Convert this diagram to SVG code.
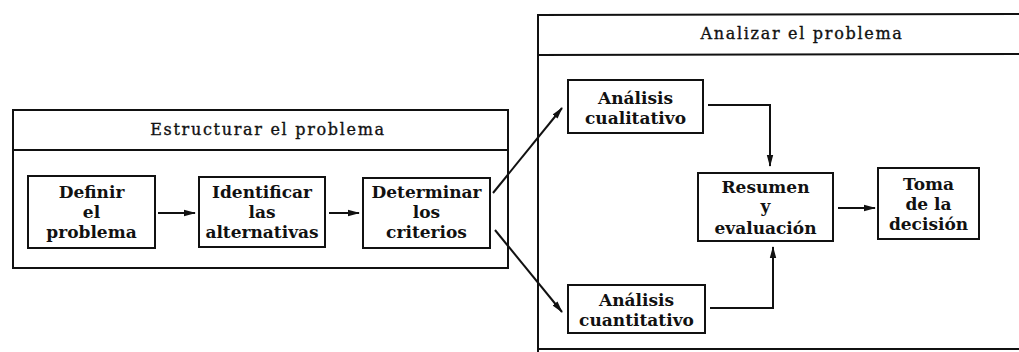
<svg xmlns="http://www.w3.org/2000/svg" width="1019" height="352" viewBox="0 0 1019 352">
  <style>
    .frame { fill: none; stroke: #111; stroke-width: 2; }
    .box { fill: #fff; stroke: #111; stroke-width: 2; }
    .head { font-family: "DejaVu Serif", "Liberation Serif", serif; font-size: 16px; letter-spacing: 1.7px; fill: #111; stroke: #111; stroke-width: 0.35; text-anchor: middle; }
    .lbl { font-family: "DejaVu Serif", "Liberation Serif", serif; font-size: 17px; font-weight: bold; fill: #111; text-anchor: middle; }
    .conn { fill: none; stroke: #111; stroke-width: 2; }
  </style>
  <defs>
    <marker id="arr" markerWidth="12" markerHeight="8" refX="11" refY="4" orient="auto" markerUnits="userSpaceOnUse">
      <path d="M0,0.8 L12,4 L0,7.2 Z" fill="#111"/>
    </marker>
  </defs>
  <rect width="1019" height="352" fill="#fff"/>

  <!-- stage: structure the problem -->
  <g id="estructurar">
    <rect class="frame" x="13" y="110" width="495" height="158"/>
    <line class="frame" x1="13" y1="150" x2="508" y2="150"/>
    <text class="head" x="268" y="135">Estructurar el problema</text>
  </g>

  <!-- stage: analyse the problem (runs off the right edge) -->
  <g id="analizar">
    <path class="frame" d="M1030,14 L538,15 L538,360"/>
    <line class="frame" x1="538" y1="55" x2="1030" y2="54"/>
    <line class="frame" x1="538" y1="349" x2="1030" y2="349"/>
    <text class="head" x="802" y="39">Analizar el problema</text>
  </g>

  <g id="definir">
    <rect class="box" x="28" y="176" width="127" height="72"/>
    <text class="lbl" x="91.5" y="198">Definir</text>
    <text class="lbl" x="91.5" y="218">el</text>
    <text class="lbl" x="91.5" y="238">problema</text>
  </g>

  <g id="identificar">
    <rect class="box" x="199" y="177" width="126" height="70"/>
    <text class="lbl" x="262" y="198">Identificar</text>
    <text class="lbl" x="262" y="218">las</text>
    <text class="lbl" x="262" y="238">alternativas</text>
  </g>

  <g id="determinar">
    <rect class="box" x="363" y="178" width="127" height="70"/>
    <text class="lbl" x="426.5" y="198">Determinar</text>
    <text class="lbl" x="426.5" y="218">los</text>
    <text class="lbl" x="426.5" y="238">criterios</text>
  </g>

  <g id="cualitativo">
    <rect class="box" x="568" y="80" width="135" height="53"/>
    <text class="lbl" x="635.5" y="104">Análisis</text>
    <text class="lbl" x="635.5" y="124">cualitativo</text>
  </g>

  <g id="cuantitativo">
    <rect class="box" x="568" y="285" width="137" height="48"/>
    <text class="lbl" x="636.5" y="306">Análisis</text>
    <text class="lbl" x="636.5" y="326">cuantitativo</text>
  </g>

  <g id="resumen">
    <rect class="box" x="698" y="173" width="135" height="68"/>
    <text class="lbl" x="765.5" y="193">Resumen</text>
    <text class="lbl" x="765.5" y="212">y</text>
    <text class="lbl" x="765.5" y="234">evaluación</text>
  </g>

  <g id="decision">
    <rect class="box" x="878" y="168" width="101" height="71"/>
    <text class="lbl" x="928.5" y="190">Toma</text>
    <text class="lbl" x="928.5" y="210">de la</text>
    <text class="lbl" x="928.5" y="230">decisión</text>
  </g>

  <g id="connectors">
    <line class="conn" x1="158" y1="213" x2="195" y2="213" marker-end="url(#arr)"/>
    <line class="conn" x1="329" y1="213" x2="359" y2="213" marker-end="url(#arr)"/>
    <line class="conn" x1="493" y1="193" x2="562" y2="108" marker-end="url(#arr)"/>
    <line class="conn" x1="495" y1="230" x2="562" y2="312" marker-end="url(#arr)"/>
    <path class="conn" d="M708,105 L770,105 L770,166" marker-end="url(#arr)"/>
    <path class="conn" d="M710,308 L773,308 L773,247" marker-end="url(#arr)"/>
    <line class="conn" x1="838" y1="208" x2="875" y2="208" marker-end="url(#arr)"/>
  </g>
</svg>
